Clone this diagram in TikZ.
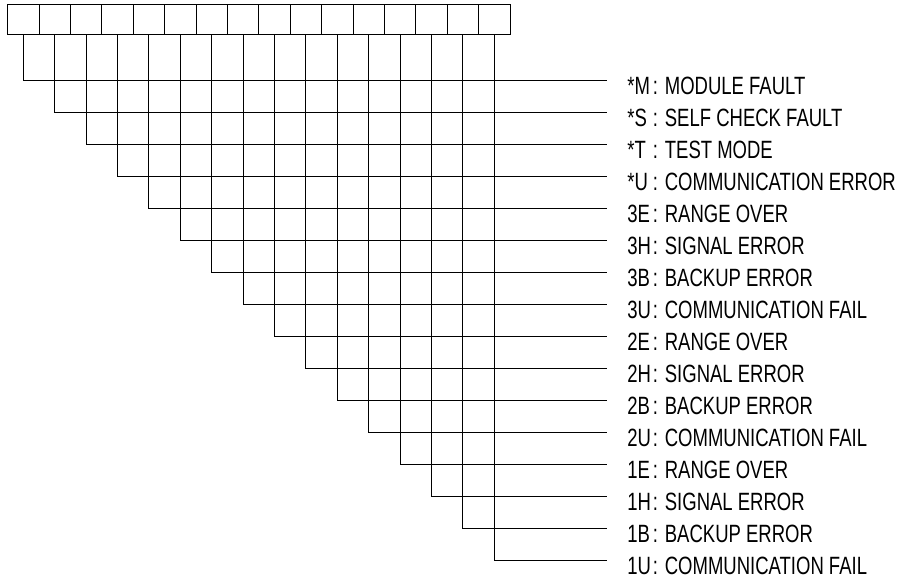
\documentclass[tikz,border=0pt]{standalone}
\usepackage{fontspec}
\setmainfont{Liberation Sans}[FakeStretch=0.74]
\begin{document}
\begin{tikzpicture}[x=1pt, y=-1pt, line width=0.8pt,
  bit/.style={draw, minimum width=31.4pt, minimum height=30.7pt, inner sep=0pt, outer sep=0pt},
  flag/.style={anchor=base west, inner sep=0pt, font=\fontsize{25}{30}\selectfont}]
  \useasboundingbox (0,0) rectangle (904,580);
  % status bits
  \foreach \i in {1,...,16}
    \node[bit] (b\i) at ({7.5+31.4*(\i-0.5)},19.35) {};
  % flag names
  \foreach \i/\c/\t in {1/*M/MODULE FAULT, 2/*S/SELF CHECK FAULT, 3/*T/TEST MODE,
      4/*U/COMMUNICATION ERROR, 5/3E/RANGE OVER, 6/3H/SIGNAL ERROR,
      7/3B/BACKUP ERROR, 8/3U/COMMUNICATION FAIL, 9/2E/RANGE OVER,
      10/2H/SIGNAL ERROR, 11/2B/BACKUP ERROR, 12/2U/COMMUNICATION FAIL,
      13/1E/RANGE OVER, 14/1H/SIGNAL ERROR, 15/1B/BACKUP ERROR,
      16/1U/COMMUNICATION FAIL}
  {
    \node[flag] (l\i) at (627,{94.7+32*(\i-1)}) {\makebox[25.5pt][l]{\c}: \t};
    \coordinate (e\i) at (607,{80.7+32*(\i-1)});
    \draw (b\i.south) |- (e\i);
  }
\end{tikzpicture}
\end{document}
